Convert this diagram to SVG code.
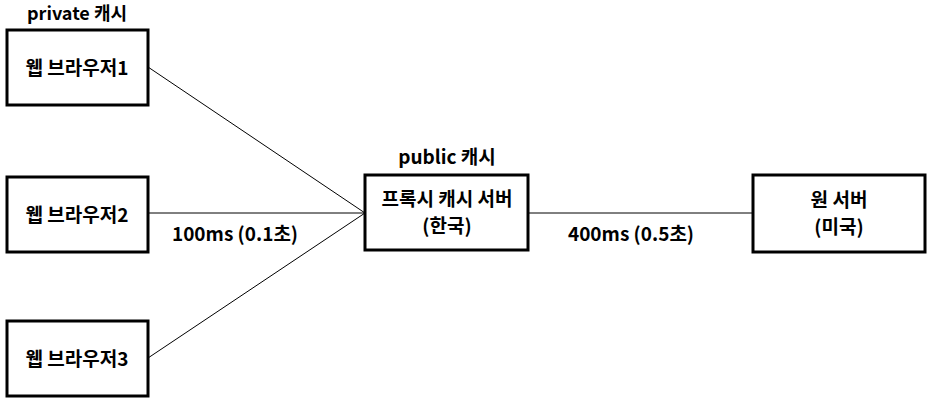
<svg xmlns="http://www.w3.org/2000/svg" width="930" height="402" viewBox="0 0 930 402">
<style>
.box{fill:#fff;stroke:#000;stroke-width:3}
.t{font-family:"Noto Sans CJK KR","Noto Sans",sans-serif;font-weight:bold;font-size:19px;fill:#000;text-anchor:middle}
.l{font-family:"Noto Sans CJK KR","Noto Sans",sans-serif;font-weight:bold;font-size:19px;fill:#000;text-anchor:middle}
.c{stroke:#000;stroke-width:1;fill:none}
</style>
<rect width="930" height="402" fill="#fff"/>
<g id="connectors">
<line class="c" x1="148" y1="67" x2="365" y2="213"/>
<line class="c" x1="148" y1="213" x2="365" y2="213"/>
<line class="c" x1="148" y1="358" x2="365" y2="213"/>
<line class="c" x1="528" y1="213" x2="753" y2="213"/>
<text class="l" x="235" y="241">100ms (0.1초)</text>
<text class="l" x="631" y="241">400ms (0.5초)</text>
</g>
<g id="browser1">
<text class="t" x="77" y="20" style="font-size:18px">private 캐시</text>
<rect class="box" x="7" y="30" width="141" height="75"/>
<text class="t" x="77" y="75">웹 브라우저1</text>
</g>
<g id="browser2">
<rect class="box" x="7" y="177" width="141" height="75"/>
<text class="t" x="77" y="222">웹 브라우저2</text>
</g>
<g id="browser3">
<rect class="box" x="7" y="321" width="141" height="75"/>
<text class="t" x="77" y="366">웹 브라우저3</text>
</g>
<g id="proxy">
<text class="t" x="447" y="164">public 캐시</text>
<rect class="box" x="365" y="175" width="163" height="75"/>
<text class="t" x="447" y="206">프록시 캐시 서버</text>
<text class="t" x="447" y="233">(한국)</text>
</g>
<g id="origin">
<rect class="box" x="753" y="175" width="172" height="77"/>
<text class="t" x="839" y="207">원 서버</text>
<text class="t" x="839" y="234">(미국)</text>
</g>
</svg>
